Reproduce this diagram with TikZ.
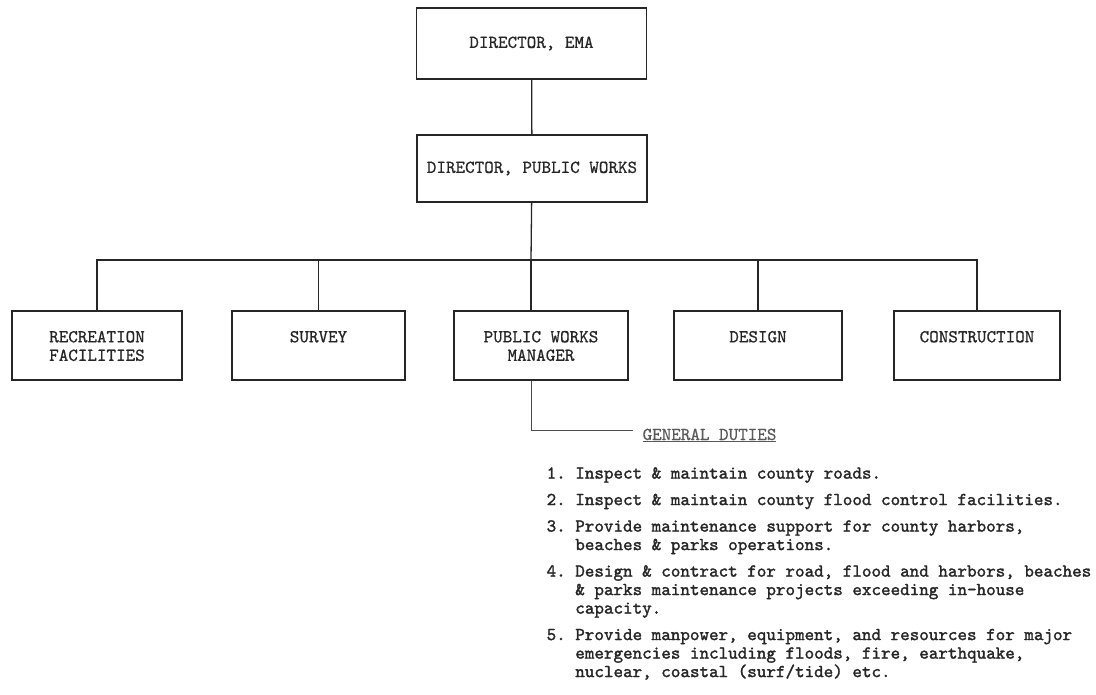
\documentclass[tikz,border=0pt]{standalone}
\usepackage{fontspec}
\newfontfamily\boxfont{lmmono10-regular.otf}[FakeBold=0.7]
\newfontfamily\listfont{lmmono10-regular.otf}[FakeBold=1.6]
\usetikzlibrary{positioning}

\begin{document}
\begin{tikzpicture}[x=1pt,y=-1pt,line width=1.3pt,
  txt/.style={font=\boxfont\fontsize{18.2}{18.5}\selectfont,text=black!85},
  office/.style={draw=black!85,txt,minimum width=230pt},
  unit/.style={draw=black!85,minimum height=69pt},
  unitname/.style={txt,align=center,inner sep=0pt}]
\useasboundingbox (0,0) rectangle (1096,695);

\node[office,minimum height=71pt] (ema) at (531.5,43.5) {DIRECTOR, EMA};
\node[office,minimum height=67pt] (dpw) at (532,168.5) {DIRECTOR, PUBLIC WORKS};

\node[unit,minimum width=170pt] (rec) at (97,345.5) {};
\node[unit,minimum width=173pt] (sur) at (318.5,345.5) {};
\node[unit,minimum width=174pt] (pwm) at (541,345.5) {};
\node[unit,minimum width=168pt] (des) at (758,345.5) {};
\node[unit,minimum width=166pt] (con) at (977,345.5) {};

\node[unitname,below=20pt of rec.north] (rectext) {RECREATION\\FACILITIES};
\node[unitname,below=20pt of sur.north] (surtext) {SURVEY};
\node[unitname,below=20pt of pwm.north] (pwmtext) {PUBLIC WORKS\\MANAGER};
\node[unitname,below=20pt of des.north] (destext) {DESIGN};
\node[unitname,below=20pt of con.north] (context) {CONSTRUCTION};

\coordinate (bus) at (531,260);
\draw[black!85] (ema) -- (dpw);
\draw[black!85] (dpw) -- (bus);
\draw[black!85] (rec.north) |- (bus) -| (con.north);
\draw[black!85] (sur.north) -- (sur.north |- bus);
\draw[black!85] (des.north) -- (des.north |- bus);
\draw[black!85] (bus) -- (bus |- pwm.north);

\coordinate (dutyend) at (633,430);
\node[txt,text=black!65,anchor=base west,inner sep=0pt] (duties) at (642,440) {\underline{GENERAL DUTIES}};
\draw[black!70,line width=1pt] (bus |- pwm.south) |- (dutyend);

\node[txt,anchor=north west,inner sep=0pt,font=\listfont\fontsize{18.2}{18.5}\selectfont] (tasks) at (546,465) {%
\begin{tabular}{@{}l@{\hspace{9.55pt}}l@{}}
1. & Inspect \& maintain county roads.\\[8pt]
2. & Inspect \& maintain county flood control facilities.\\[8pt]
3. & Provide maintenance support for county harbors,\\
   & beaches \& parks operations.\\[8pt]
4. & Design \& contract for road, flood and harbors, beaches\\
   & \& parks maintenance projects exceeding in-house\\
   & capacity.\\[8pt]
5. & Provide manpower, equipment, and resources for major\\
   & emergencies including floods, fire, earthquake,\\
   & nuclear, coastal (surf/tide) etc.
\end{tabular}};
\end{tikzpicture}
\end{document}
